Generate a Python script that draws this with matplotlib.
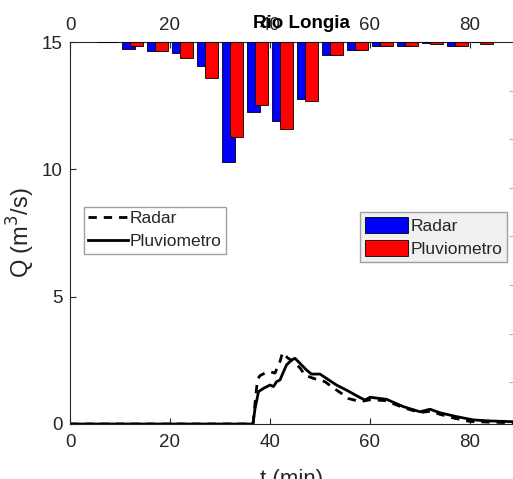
import numpy as np
import matplotlib
matplotlib.use("Agg")
import matplotlib.pyplot as plt

plt.rcParams['font.family'] = ['Liberation Sans', 'DejaVu Sans']

# hydrograph (t in min, Q in m3/s)
t_pluvio = [0, 36.6, 37.0, 37.7, 38.7, 40.0, 40.7, 41.3, 42.0, 42.7, 43.3, 44.3, 45.0, 46.0, 47.3, 48.3,
            50.0, 51.3, 53.3, 55.3, 57.7, 59.0, 60.0, 63.3, 66.7, 70.0, 72.0, 74.0, 77.3, 80.7, 84.0, 88.6]
q_pluvio = [0, 0, 0.6, 1.27, 1.40, 1.53, 1.47, 1.66, 1.73, 2.05, 2.32, 2.51, 2.58, 2.38, 2.12, 1.96,
            1.96, 1.79, 1.53, 1.33, 1.07, 0.94, 1.05, 0.97, 0.68, 0.48, 0.58, 0.44, 0.29, 0.16, 0.12, 0.09]

t_radar = [0, 36.6, 37.0, 37.5, 38.0, 39.0, 40.0, 41.0, 42.0, 42.5, 43.5, 44.7, 46.0, 47.0, 48.7, 50.0,
           51.0, 52.3, 54.3, 55.7, 58.0, 60.0, 63.0, 67.0, 70.0, 72.0, 74.0, 77.0, 80.0, 84.0, 88.6]
q_radar = [0, 0, 0.8, 1.75, 1.9, 2.0, 2.05, 2.0, 2.45, 2.8, 2.6, 2.45, 2.2, 1.92, 1.79, 1.72,
           1.66, 1.47, 1.2, 1.0, 0.88, 0.95, 0.92, 0.62, 0.45, 0.5, 0.38, 0.22, 0.1, 0.07, 0.05]

# 5-min rainfall, hanging from the top
t_rain = [7.5, 12.5, 17.5, 22.5, 27.5, 32.5, 37.5, 42.5, 47.5, 52.5, 57.5, 62.5, 67.5, 72.5, 77.5, 82.5]
rain_radar = [0.05, 0.7, 0.9, 1.1, 2.5, 12.3, 7.2, 8.1, 5.9, 1.3, 0.8, 0.4, 0.4, 0.15, 0.4, 0.0]
rain_pluvio = [0.05, 0.45, 0.95, 1.6, 3.7, 9.75, 6.5, 9.0, 6.1, 1.3, 0.8, 0.4, 0.4, 0.25, 0.4, 0.2]

txt = '#262626'
fs = 13.5

fig = plt.figure(figsize=(5.13, 4.79), dpi=100)
ax = fig.add_axes([70 / 513, 55 / 479, 443 / 513, 382 / 479])

ax.plot(t_radar, q_radar, '--', color='k', lw=2, dashes=(3, 2.5), label='Radar')
ax.plot(t_pluvio, q_pluvio, '-', color='k', lw=2, label='Pluviometro')
ax.set_xlim(0, 88.6)
ax.set_ylim(0, 15)
ax.set_xticks([0, 20, 40, 60, 80])
ax.set_yticks([0, 5, 10, 15])
ax.tick_params(direction='in', length=4, colors=txt, labelsize=fs, top=True, right=True)
ax.tick_params(axis='x', pad=7.5)
ax.tick_params(axis='y', pad=5.5)
ax.set_xlabel('t (min)', fontsize=16, color=txt, labelpad=13)
ax.set_ylabel('Q (m$^3$/s)', fontsize=17, color=txt, labelpad=3.5)
ax.spines['right'].set_visible(False)
for s in ['left', 'bottom', 'top']:
    ax.spines[s].set_color(txt)

leg1 = ax.legend(loc='upper left', bbox_to_anchor=(84 / 513, 1 - 207 / 479), bbox_transform=fig.transFigure,
                 fontsize=12.5, fancybox=False, edgecolor='#a0a0a0', framealpha=1, borderaxespad=0,
                 borderpad=0.25, handlelength=2.3, handletextpad=0.1, labelspacing=0.45)
leg1.get_frame().set_linewidth(1)
for txt_item in leg1.get_texts():
    txt_item.set_color(txt)

# rain on its own inverted axis
ax2 = ax.twinx()
ax2.bar(np.array(t_rain) - 0.8, rain_radar, width=2.5, color='#0000ff', edgecolor='k', lw=0.6, label='Radar')
ax2.bar(np.array(t_rain) + 0.8, rain_pluvio, width=2.5, color='#ff0000', edgecolor='k', lw=0.6, label='Pluviometro')
ax2.set_ylim(39.3, 0)
ax2.set_yticks(np.arange(5, 39, 5))
ax2.tick_params(direction='in', length=3, colors='#b0b0b0', labelright=False)
for s in ax2.spines.values():
    s.set_visible(False)

leg2 = ax2.legend(loc='upper left', bbox_to_anchor=(360 / 513, 1 - 212 / 479), bbox_transform=fig.transFigure,
                  fontsize=12.5, fancybox=False, edgecolor='#a0a0a0', facecolor='#f0f0f0', framealpha=1,
                  borderaxespad=0, borderpad=0.3, handlelength=2.45, handleheight=1.0,
                  handletextpad=0.15, labelspacing=0.35)
leg2.get_frame().set_linewidth(1)
for txt_item in leg2.get_texts():
    txt_item.set_color(txt)

# top axis with the same time ticks
ax3 = ax.twiny()
ax3.set_xlim(ax.get_xlim())
ax3.set_xticks([0, 20, 40, 60, 80])
ax3.tick_params(direction='in', length=4, colors=txt, labelsize=fs, pad=6)
for s in ax3.spines.values():
    s.set_visible(False)

fig.text(301 / 513, 1 - 28 / 479, 'Rio Longia', ha='center', va='baseline',
         fontsize=fs, fontweight='bold', color='#000000')

fig.savefig('out.png', dpi=100)
